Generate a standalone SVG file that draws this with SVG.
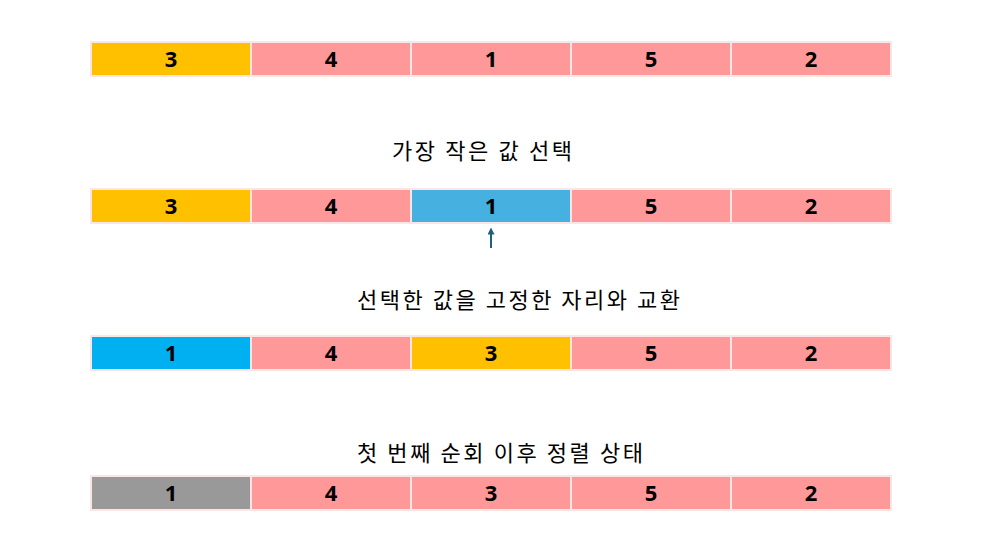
<svg xmlns="http://www.w3.org/2000/svg" width="992" height="553" viewBox="0 0 992 553">
<style>
.c{stroke:#FBE5E5;stroke-width:2}
.y{fill:#FFC000}.p{fill:#FF9999}.b{fill:#46B0E0}.bb{fill:#00B0F0}.g{fill:#999999}
.n{font-family:"Noto Sans","Noto Sans CJK KR",sans-serif;font-weight:bold;font-size:22px;text-anchor:middle;fill:#000}
.t{font-family:"Noto Sans CJK KR",sans-serif;font-size:22px;text-anchor:start;fill:#000}
</style>
<defs>
<marker id="ah" markerWidth="7" markerHeight="7" refX="3.5" refY="3.5" orient="auto" markerUnits="userSpaceOnUse"><path d="M0,0 L7,3.5 L0,7 z" fill="#1F5F7F"/></marker>
</defs>
<rect width="992" height="553" fill="#fff"/>
<g id="row1">
<rect class="c y" x="91" y="42" width="160" height="34"/><text class="n" x="171" y="67">3</text>
<rect class="c p" x="251" y="42" width="160" height="34"/><text class="n" x="331" y="67">4</text>
<rect class="c p" x="411" y="42" width="160" height="34"/><text class="n" x="491" y="67">1</text>
<rect class="c p" x="571" y="42" width="160" height="34"/><text class="n" x="651" y="67">5</text>
<rect class="c p" x="731" y="42" width="160" height="34"/><text class="n" x="811" y="67">2</text>
</g>
<g id="label1"><text class="t" x="392" y="159" textLength="180" lengthAdjust="spacing">가장 작은 값 선택</text></g>
<g id="row2">
<rect class="c y" x="91" y="189" width="160" height="34"/><text class="n" x="171" y="214">3</text>
<rect class="c p" x="251" y="189" width="160" height="34"/><text class="n" x="331" y="214">4</text>
<rect class="c b" x="411" y="189" width="160" height="34"/><text class="n" x="491" y="214">1</text>
<rect class="c p" x="571" y="189" width="160" height="34"/><text class="n" x="651" y="214">5</text>
<rect class="c p" x="731" y="189" width="160" height="34"/><text class="n" x="811" y="214">2</text>
</g>
<g id="connectors">
<line x1="491" y1="248" x2="491" y2="231" stroke="#1F5F7F" stroke-width="2" marker-end="url(#ah)"/>
</g>
<g id="label2"><text class="t" x="357" y="308" textLength="323" lengthAdjust="spacing">선택한 값을 고정한 자리와 교환</text></g>
<g id="row3">
<rect class="c bb" x="91" y="336" width="160" height="34"/><text class="n" x="171" y="361">1</text>
<rect class="c p" x="251" y="336" width="160" height="34"/><text class="n" x="331" y="361">4</text>
<rect class="c y" x="411" y="336" width="160" height="34"/><text class="n" x="491" y="361">3</text>
<rect class="c p" x="571" y="336" width="160" height="34"/><text class="n" x="651" y="361">5</text>
<rect class="c p" x="731" y="336" width="160" height="34"/><text class="n" x="811" y="361">2</text>
</g>
<g id="label3"><text class="t" x="357" y="461" textLength="286" lengthAdjust="spacing">첫 번째 순회 이후 정렬 상태</text></g>
<g id="row4">
<rect class="c g" x="91" y="476" width="160" height="34"/><text class="n" x="171" y="501">1</text>
<rect class="c p" x="251" y="476" width="160" height="34"/><text class="n" x="331" y="501">4</text>
<rect class="c p" x="411" y="476" width="160" height="34"/><text class="n" x="491" y="501">3</text>
<rect class="c p" x="571" y="476" width="160" height="34"/><text class="n" x="651" y="501">5</text>
<rect class="c p" x="731" y="476" width="160" height="34"/><text class="n" x="811" y="501">2</text>
</g>
</svg>
